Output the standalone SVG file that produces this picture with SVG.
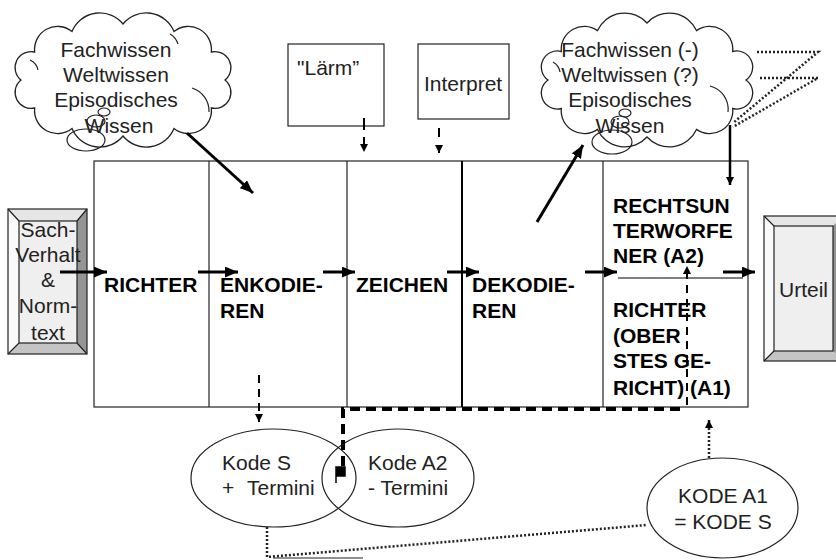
<svg xmlns="http://www.w3.org/2000/svg" width="836" height="560" viewBox="0 0 836 560">
<style>
text{font-family:"Liberation Sans",Arial,sans-serif;font-size:21px;fill:#222}
.b{font-weight:bold;fill:#000}
.m{text-anchor:middle}
.ln{fill:none;stroke:#222;stroke-width:1.2}
.cl{fill:#fff;stroke:#222;stroke-width:1.3}
.bub{fill:none;stroke:#222;stroke-width:1.2}
.ar{fill:none;stroke:#000;stroke-width:3}
.da{fill:none;stroke:#000;stroke-width:2}
.dot{fill:none;stroke:#222;stroke-width:2.5;stroke-dasharray:2 2}
.thick{fill:none;stroke:#000;stroke-width:4;stroke-dasharray:10 6}
</style>
<defs>
<marker id="ah" viewBox="0 0 12 10" refX="12" refY="5" markerWidth="13" markerHeight="11" markerUnits="userSpaceOnUse" orient="auto"><path d="M0,0 L12,5 L0,10 z" fill="#000"/></marker>
<marker id="sh" viewBox="0 0 8 8" refX="8" refY="4" markerWidth="8" markerHeight="8" markerUnits="userSpaceOnUse" orient="auto"><path d="M0,0 L8,4 L0,8 z" fill="#000"/></marker>
</defs>

<g id="cloud1">
<path class="cl" d="M21,80 A16,16 0 0 1 34.7,52 A23,23 0 0 1 72,31.5 A30,30 0 0 1 123,24 A30,30 0 0 1 174,31.5 A23,23 0 0 1 211.3,52 A16,16 0 0 1 225,80 A16,16 0 0 1 211.3,108 A23,23 0 0 1 174,128.5 A30,30 0 0 1 123,136 A30,30 0 0 1 72,128.5 A23,23 0 0 1 34.7,108 A16,16 0 0 1 21,80 Z"/>
<path class="bub" d="M192,88 A24,24 0 0 1 209,112 M30,60 A14,14 0 0 1 38,70 M170,34 A18,18 0 0 1 178,44"/>
<ellipse class="bub" cx="86" cy="140" rx="19" ry="11"/>
<ellipse class="bub" cx="96" cy="121" rx="9" ry="6"/>
<ellipse class="bub" cx="104" cy="112" rx="6" ry="4"/>
<text class="m" x="116" y="57">Fachwissen</text>
<text class="m" x="116" y="82">Weltwissen</text>
<text class="m" x="116" y="107">Episodisches</text>
<text class="m" x="119" y="133">Wissen</text>
</g>

<g id="cloud2">
<path class="cl" d="M548,80 A16,16 0 0 1 561.3,51.5 A23,23 0 0 1 597.5,30.6 A30,30 0 0 1 647,23 A30,30 0 0 1 696.5,30.6 A23,23 0 0 1 732.7,51.5 A16,16 0 0 1 746,80 A16,16 0 0 1 732.7,108.5 A23,23 0 0 1 696.5,129.4 A30,30 0 0 1 647,137 A30,30 0 0 1 597.5,129.4 A23,23 0 0 1 561.3,108.5 A16,16 0 0 1 548,80 Z"/>
<path class="bub" d="M710,86 A24,24 0 0 1 728,112 M553,62 A14,14 0 0 1 560,72"/>
<ellipse class="bub" cx="612" cy="142" rx="20" ry="12"/>
<ellipse class="bub" cx="620" cy="122" rx="9" ry="6"/>
<ellipse class="bub" cx="625" cy="113" rx="6" ry="4"/>
<text class="m" x="630" y="57">Fachwissen (-)</text>
<text class="m" x="630" y="82">Weltwissen (?)</text>
<text class="m" x="630" y="107">Episodisches</text>
<text class="m" x="630" y="133">Wissen</text>
</g>

<g id="laerm">
<rect class="ln" x="288" y="44" width="96" height="82" fill="#fff"/>
<text x="297" y="75">"Lärm”</text>
</g>

<g id="interpret">
<rect class="ln" x="418" y="44" width="91" height="75" fill="#fff"/>
<text x="424" y="91">Interpret</text>
</g>

<g id="sachverhalt">
<rect x="8" y="209" width="79" height="145" fill="#efefef"/>
<polygon points="8,209 87,209 77,221 19,221" fill="#e6e6e6"/>
<polygon points="8,209 19,221 19,343 8,354" fill="#fafafa"/>
<polygon points="87,209 87,354 77,343 77,221" fill="#959595"/>
<polygon points="8,354 19,343 77,343 87,354" fill="#c4c4c4"/>
<rect class="ln" x="8" y="209" width="79" height="145"/>
<rect class="ln" x="19" y="221" width="58" height="122"/>
<path class="ln" d="M8,209 L19,221 M87,209 L77,221 M8,354 L19,343 M87,354 L77,343"/>
<text class="m" x="48" y="237">Sach-</text>
<text class="m" x="48" y="262">Verhalt</text>
<text class="m" x="48" y="287">&amp;</text>
<text class="m" x="48" y="313">Norm-</text>
<text class="m" x="48" y="340">text</text>
</g>

<g id="process">
<rect class="ln" x="94" y="161" width="654" height="246" fill="#fff"/>
<line class="ln" x1="209" y1="161" x2="209" y2="407"/>
<line class="ln" x1="347" y1="161" x2="347" y2="407"/>
<line x1="462" y1="161" x2="462" y2="407" stroke="#000" stroke-width="2"/>
<line class="ln" x1="603" y1="161" x2="603" y2="407"/>
<line x1="618" y1="278" x2="743" y2="278" stroke="#555" stroke-width="1.5"/>
</g>

<g id="richter"><text class="b" x="104" y="292">RICHTER</text></g>
<g id="enkodieren"><text class="b" x="220" y="292">ENKODIE-</text><text class="b" x="220" y="318">REN</text></g>
<g id="zeichen"><text class="b" x="356" y="292">ZEICHEN</text></g>
<g id="dekodieren"><text class="b" x="472" y="292">DEKODIE-</text><text class="b" x="472" y="318">REN</text></g>
<g id="rechtsunterworfener">
<text class="b" x="613" y="213">RECHTSUN</text>
<text class="b" x="613" y="238">TERWORFE</text>
<text class="b" x="613" y="263">NER (A2)</text>
</g>
<g id="richter-oberstes">
<text class="b" x="613" y="317">RICHTER</text>
<text class="b" x="613" y="343">(OBER</text>
<text class="b" x="613" y="368">STES GE-</text>
<text class="b" x="613" y="395">RICHT) (A1)</text>
</g>

<g id="urteil">
<rect x="764" y="216" width="79" height="145" fill="#efefef"/>
<polygon points="764,216 843,216 833,226 774,226" fill="#e6e6e6"/>
<polygon points="764,216 774,226 774,351 764,361" fill="#fafafa"/>
<polygon points="843,216 843,361 833,351 833,226" fill="#959595"/>
<polygon points="764,361 774,351 833,351 843,361" fill="#c4c4c4"/>
<rect class="ln" x="764" y="216" width="79" height="145"/>
<rect class="ln" x="774" y="226" width="59" height="125"/>
<path class="ln" d="M764,216 L774,226 M764,361 L774,351"/>
<text x="779" y="297">Urteil</text>
</g>

<g id="kodeS">
<ellipse class="ln" cx="273.5" cy="478" rx="82.5" ry="49"/>
<text x="222" y="470">Kode S</text>
<text x="222" y="495">+ <tspan x="247">Termini</tspan></text>
</g>
<g id="kodeA2">
<ellipse class="ln" cx="398" cy="478" rx="76" ry="49"/>
<text x="368" y="470">Kode A2</text>
<text x="368" y="495">- Termini</text>
</g>
<g id="kodeA1">
<ellipse class="ln" cx="722.5" cy="508" rx="75.5" ry="50" fill="#fff"/>
<text class="m" x="723" y="503">KODE A1</text>
<text class="m" x="723" y="529">= KODE S</text>
</g>

<g id="connectors">
<line class="ar" x1="60" y1="272" x2="107" y2="272" marker-end="url(#ah)"/>
<line class="ar" x1="198" y1="272" x2="238" y2="272" marker-end="url(#ah)"/>
<line class="ar" x1="323" y1="272" x2="355" y2="272" marker-end="url(#ah)"/>
<line class="ar" x1="447" y1="272" x2="479" y2="272" marker-end="url(#ah)"/>
<line class="ar" x1="585" y1="272" x2="617" y2="272" marker-end="url(#ah)"/>
<line class="ar" x1="723" y1="272" x2="755" y2="272" marker-end="url(#ah)"/>
<line class="ar" x1="187" y1="133" x2="253" y2="193" marker-end="url(#ah)"/>
<line class="ar" x1="537" y1="222" x2="583" y2="145" marker-end="url(#ah)"/>
<line x1="730" y1="125" x2="730" y2="185" stroke="#000" stroke-width="2.5" marker-end="url(#sh)"/>
<line class="da" x1="364" y1="118" x2="364" y2="152" stroke-dasharray="12 7" marker-end="url(#sh)"/>
<line class="da" x1="439" y1="128" x2="439" y2="153" stroke-dasharray="9 8" marker-end="url(#sh)"/>
<line class="da" x1="259" y1="375" x2="259" y2="422" stroke-dasharray="8 6" marker-end="url(#sh)"/>
<path class="thick" d="M343,466 V409 H680"/>
<path d="M336,467 H345 V476 H336 Z M336,467 V483" fill="#000" stroke="#000" stroke-width="1.5"/>
<line class="da" x1="687" y1="405" x2="687" y2="266" stroke-dasharray="8 6" marker-end="url(#sh)"/>
<path class="dot" d="M757,52 H818 L733,123"/>
<path class="dot" d="M760,78 H818 L733,127"/>
<line class="dot" x1="709" y1="458" x2="709" y2="420" marker-end="url(#sh)"/>
<path class="dot" d="M267,527 V557 L647,525"/>
<line x1="273" y1="558" x2="363" y2="558" stroke="#222" stroke-width="1.2"/>
</g>
</svg>
